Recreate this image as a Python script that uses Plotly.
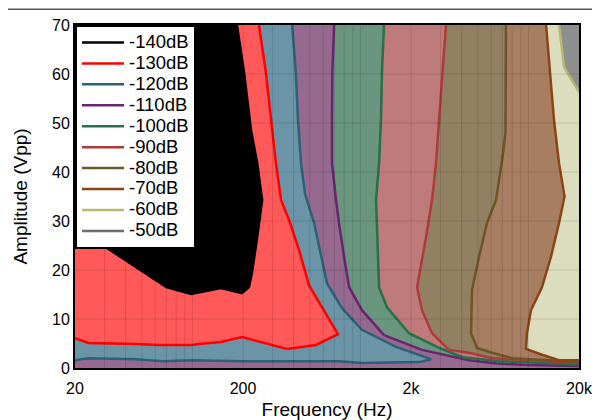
import plotly.graph_objects as go

# contour levels, from the largest region to the smallest
levels = ['-60dB', '-70dB', '-80dB', '-90dB', '-100dB', '-110dB', '-120dB', '-130dB', '-140dB']

# contour paths (frequency Hz, amplitude Vpp)
c140_f = [20, 31, 70, 98, 148, 197, 217, 226, 243, 256, 260, 243, 223, 203, 184]
c140_a = [25.5, 24.5, 16.5, 15.1, 16.3, 15.3, 16.5, 19.4, 26.7, 32.9, 34.3, 41.8, 48.6, 60.2, 70]

c130_f = [20, 24, 46, 63, 99, 109, 148, 197, 366, 545, 735, 607, 494, 431, 376, 337, 314, 294, 274, 249]
c130_a = [6.1, 5.1, 4.9, 4.7, 4.7, 4.9, 5.3, 6.3, 3.9, 4.7, 6.9, 11.8, 16.9, 24.1, 30.2, 34.3, 41.8, 50.6, 60.2, 70]

c120_f = [20, 24, 46, 66, 99, 197, 745, 1021, 2235, 2631, 1629, 1021, 777, 632, 530, 468, 443, 425, 413, 392]
c120_a = [1.6, 2.0, 1.8, 1.4, 1.6, 1.4, 1.4, 1.0, 1.2, 1.8, 4.3, 7.8, 12.2, 17.3, 29.6, 35.5, 41.8, 50.6, 60.2, 70]

c110_f = [697, 680, 677, 677, 716, 745, 799, 856, 1021, 1381, 2325, 4430, 6500, 10000, 20000]
c110_a = [70, 60.2, 50.6, 41.8, 34.3, 29.6, 22.7, 16.5, 11.8, 6.7, 3.7, 1.6, 0.9, 0.6, 0.4]

c100_f = [1381, 1343, 1325, 1291, 1239, 1257, 1291, 1439, 1946, 2937, 4080, 6685, 20000]
c100_a = [70, 60.2, 50.6, 41.8, 34.3, 26.7, 16.5, 12.4, 7.1, 4.1, 2.2, 1.4, 0.7]

c90_f = [3231, 3063, 2937, 2819, 2667, 2457, 2174, 2325, 2667, 3367, 4430, 6075, 20000]
c90_a = [70, 60.2, 50.6, 41.8, 34.3, 26.7, 16.5, 11.8, 7.1, 3.7, 3.1, 2.0, 1.0]

c80_f = [7352, 7352, 7300, 6969, 6416, 5669, 5082, 4614, 4552, 4944, 6075, 7984, 20000]
c80_a = [70, 60.2, 48.0, 42.4, 34.3, 29.6, 22.7, 15.9, 7.1, 4.1, 3.1, 2.0, 1.2]

c70_f = [12737, 13434, 14195, 15210, 16400, 15210, 13623, 12051, 10357, 9800, 9679, 12051, 15210, 20000]
c70_a = [70, 60.2, 50.6, 41.8, 35.0, 29.6, 22.7, 16.5, 11.8, 7.1, 3.9, 2.7, 1.6, 1.6]

c60_f = [15210, 16295, 20000]
c60_a = [70, 61.4, 56.3]

contours = {
    '-60dB': (c60_f, c60_a), '-70dB': (c70_f, c70_a), '-80dB': (c80_f, c80_a),
    '-90dB': (c90_f, c90_a), '-100dB': (c100_f, c100_a), '-110dB': (c110_f, c110_a),
    '-120dB': (c120_f, c120_a), '-130dB': (c130_f, c130_a), '-140dB': (c140_f, c140_a),
}
# contours that start on the left edge close through the top-left corner only
left_start = ['-120dB', '-130dB', '-140dB']

legend_order = ['-140dB', '-130dB', '-120dB', '-110dB', '-100dB', '-90dB', '-80dB', '-70dB', '-60dB', '-50dB']

fill_colors = {
    '-60dB': '#DCDCBE', '-70dB': '#A87E63', '-80dB': '#928062', '-90dB': '#BF7B7B',
    '-100dB': '#6A967F', '-110dB': '#966A8E', '-120dB': '#6B95A7', '-130dB': '#FF5959',
    '-140dB': '#000000',
}
line_colors = {
    '-140dB': '#000000', '-130dB': '#FF0000', '-120dB': '#2B6179', '-110dB': '#6B2570',
    '-100dB': '#26704A', '-90dB': '#B03A3A', '-80dB': '#6E5428', '-70dB': '#8B4513',
    '-60dB': '#B8B870', '-50dB': '#6E6E6E',
}
BG_50 = '#8E8E8E'

X_MIN, X_MAX = 20, 20000
Y_MIN, Y_MAX = 0, 70

fig = go.Figure()

for lv in levels:
    f, a = contours[lv]
    if lv in left_start:
        fx = f + [X_MIN]
        fy = a + [Y_MAX]
    else:
        fx = f + [X_MAX, X_MIN, X_MIN]
        fy = a + [Y_MIN, Y_MIN, Y_MAX]
    fig.add_trace(go.Scatter(x=fx, y=fy, mode='lines', fill='toself',
                             fillcolor=fill_colors[lv], line=dict(width=0),
                             showlegend=False, hoverinfo='skip'))

# legend text bigger than its row height (rows follow legend.font.size)
for lv in legend_order:
    if lv in contours:
        f, a = contours[lv]
    else:
        f, a = [None], [None]
    fig.add_trace(go.Scatter(x=f, y=a, mode='lines',
                             name=f'<span style="font-size:18.5px">{lv}</span>',
                             line=dict(color=line_colors[lv], width=2.5)))

# grid drawn on top of the opaque bands
grid = dict(color='rgba(0,0,0,0.12)', width=1)
for dec in [10, 100, 1000, 10000]:
    for m in range(1, 10):
        v = dec * m
        if X_MIN < v < X_MAX:
            fig.add_shape(type='line', xref='x', yref='paper', x0=v, x1=v, y0=0, y1=1,
                          line=grid, layer='above')
for v in range(10, 70, 10):
    fig.add_shape(type='line', xref='paper', yref='y', x0=0, x1=1, y0=v, y1=v,
                  line=grid, layer='above')

# rule across the top of the page
fig.add_shape(type='line', xref='paper', yref='paper', x0=-0.14, x1=1.05, y0=1.046, y1=1.046,
              line=dict(color='#555555', width=1.5))

axis_style = dict(showline=True, linecolor='black', linewidth=2, mirror=True,
                  showgrid=False, zeroline=False, ticks='', automargin=False)

fig.update_layout(
    width=592, height=412,
    margin=dict(l=67, r=21, t=17, b=52),
    paper_bgcolor='white', plot_bgcolor=BG_50,
    font=dict(family='Liberation Sans, Arial, sans-serif', size=16, color='black'),
    showlegend=True,
    legend=dict(x=0, y=1, xanchor='left', yanchor='top', bgcolor='white',
                bordercolor='black', borderwidth=2, font=dict(size=13.8),
                itemwidth=42, tracegroupgap=0),
    xaxis=dict(type='log', range=[1.30103, 4.30103], tickvals=[20, 200, 2000, 20000],
               ticktext=['20', '200', '2k', '20k'], ticklabelstandoff=5,
               title=dict(text='Frequency (Hz)', standoff=7), **axis_style),
    yaxis=dict(range=[Y_MIN, Y_MAX], dtick=10,
               title=dict(text='Amplitude (Vpp)', standoff=19), **axis_style),
)

fig.write_html("out.html")
